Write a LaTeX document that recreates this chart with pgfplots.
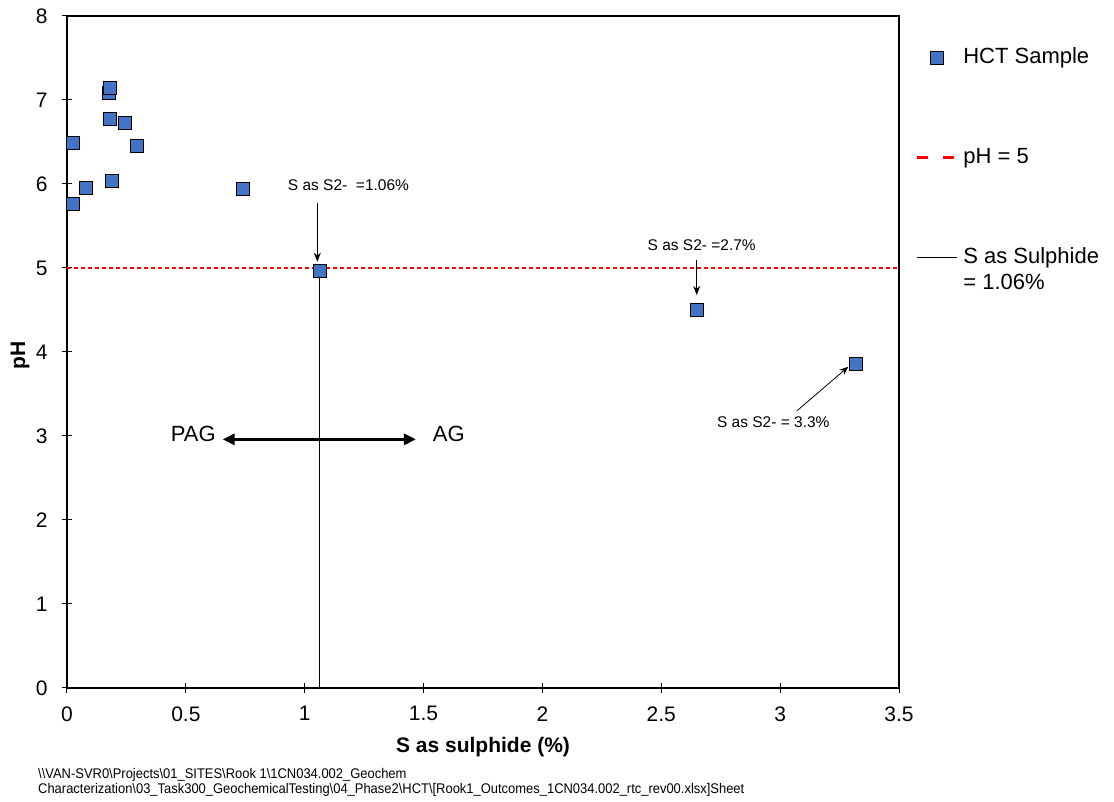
\documentclass[border=0pt]{standalone}
\usepackage{pgfplots}
\pgfplotsset{compat=1.18}
\usepackage{pgfplotstable}
\usepackage{fontspec}
\setmainfont{Liberation Sans}
\newfontfamily\narrowfont[FakeStretch=0.925]{Liberation Sans}
\usetikzlibrary{arrows.meta}
\definecolor{hctblue}{HTML}{4472C4}

\pgfplotstableread{
x y
0.024 6.49
0.024 5.76
0.081 5.95
0.176 7.09
0.181 7.14
0.181 6.77
0.243 6.73
0.294 6.45
0.190 6.04
0.742 5.94
1.064 4.96
2.649 4.50
3.319 3.86
}\hctdata

\begin{document}
\begin{tikzpicture}
\begin{axis}[
  scale only axis,
  width=832pt, height=672pt,
  xmin=0, xmax=3.5, ymin=0, ymax=8,
  xtick={0,0.5,...,3.5}, ytick={0,1,...,8},
  tick pos=left,
  clip=false,
  axis line style={black, line width=1.2pt},
  tick style={black, line width=1pt},
  major tick length=10pt,
  tick align=center,
  /pgf/number format/assume math mode=true,
  xticklabel style={font=\fontsize{21}{25}\selectfont, yshift=-10pt},
  yticklabel style={font=\fontsize{21}{25}\selectfont, xshift=-11pt},
  xlabel={S as sulphide (\%)},
  ylabel={pH},
  xlabel style={font=\bfseries\fontsize{21}{25}\selectfont, at={(axis description cs:0.5,-0.0878)}, anchor=center},
  ylabel style={font=\bfseries\fontsize{21}{25}\selectfont, at={(axis description cs:-0.0565,0.495)}, anchor=center},
  legend style={at={(axis description cs:1.0192,0.9540)}, anchor=north west, draw=none, fill=none, inner sep=0pt, row sep=79pt, column sep=6pt, font=\fontsize{22}{26}\selectfont, nodes={inner sep=0pt, text height=16pt, text depth=5pt}},
  legend cell align=left,
]
\addlegendimage{legend image code/.code={\path[mark=square*, mark size=6.5pt, mark options={fill=hctblue, draw=black, line width=0.8pt}] plot coordinates {(20pt,0pt)};}}
\addlegendentry{HCT Sample}
\addlegendimage{legend image code/.code={\draw[red, line width=3.5pt, dash pattern=on 11pt off 15pt] (0pt,0pt) -- (38pt,0pt);}}
\addlegendentry{pH = 5}
\addlegendimage{legend image code/.code={\draw[black, line width=0.8pt] (0pt,0pt) -- (40pt,0pt);}}
\addlegendentry{\begin{tabular}[t]{@{}l@{}}S as Sulphide\\= 1.06\%\end{tabular}}

\addplot[forget plot, red, line width=1.3pt, dash pattern=on 4pt off 3pt] coordinates {(0,5) (3.5,5)};
\addplot[forget plot, black, line width=0.9pt] coordinates {(1.06,0) (1.06,4.96)};
\addplot[forget plot, only marks, mark=square*, mark size=6.5pt, mark options={fill=hctblue, draw=black, line width=0.8pt}] table {\hctdata};

\draw[{Triangle[length=12pt,width=11pt]}-{Triangle[length=12pt,width=11pt]}, line width=3pt] (axis cs:0.655,2.96) -- (axis cs:1.468,2.96);
\node[font=\fontsize{22}{26}\selectfont] at (axis cs:0.531,3.03) {PAG};
\node[font=\fontsize{22}{26}\selectfont] at (axis cs:1.606,3.03) {AG};

\node[font=\fontsize{15.5}{18}\selectfont] at (axis cs:1.184,5.988) {S as S2- ~=1.06\%};
\draw[-{Stealth[length=9pt,width=7pt]}, line width=0.8pt] (axis cs:1.053,5.777) -- (axis cs:1.053,5.075);
\node[font=\fontsize{15.5}{18}\selectfont] at (axis cs:2.670,5.274) {S as S2- =2.7\%};
\draw[-{Stealth[length=9pt,width=7pt]}, line width=0.8pt] (axis cs:2.649,5.095) -- (axis cs:2.649,4.679);
\node[font=\fontsize{15.5}{18}\selectfont] at (axis cs:2.971,3.17) {S as S2- = 3.3\%};
\draw[-{Stealth[length=9pt,width=7pt]}, line width=0.8pt] (axis cs:3.070,3.298) -- (axis cs:3.287,3.825);

\coordinate (O) at (rel axis cs:0,0);
\end{axis}
\node[anchor=north west, align=left, inner sep=0pt, font=\narrowfont\fontsize{14}{15}\selectfont] at ([shift={(-29pt,-80pt)}]O) {\textbackslash\textbackslash VAN-SVR0\textbackslash Projects\textbackslash 01\_SITES\textbackslash Rook 1\textbackslash 1CN034.002\_Geochem\\Characterization\textbackslash 03\_Task300\_GeochemicalTesting\textbackslash 04\_Phase2\textbackslash HCT\textbackslash [Rook1\_Outcomes\_1CN034.002\_rtc\_rev00.xlsx]Sheet};
\pgfresetboundingbox
\path[use as bounding box] ([shift={(-67pt,-114pt)}]O) rectangle ([shift={(1047pt,688pt)}]O);
\end{tikzpicture}
\end{document}
